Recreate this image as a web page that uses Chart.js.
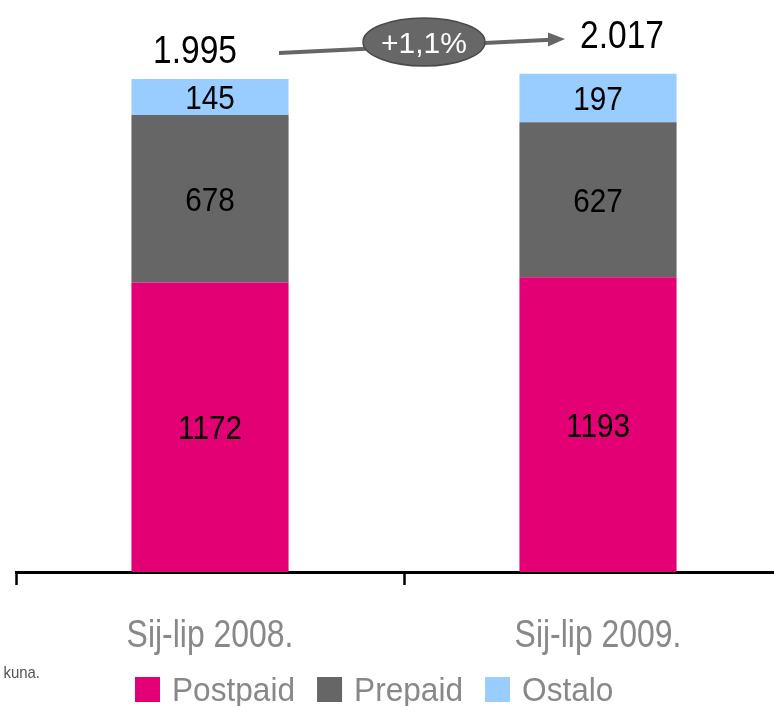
<!DOCTYPE html>
<html>
<head>
<meta charset="utf-8">
<script src="https://cdn.jsdelivr.net/npm/chart.js@4"></script>
<style>
  html, body { margin: 0; padding: 0; overflow: hidden; background: #fff; }
  #wrap { position: absolute; left: 0; top: 0; width: 792px; height: 706px; }
</style>
</head>
<body>
<div id="wrap"><canvas id="myChart"></canvas></div>
<script>
// chart data
let periods = ['Sij-lip 2008.', 'Sij-lip 2009.'];
let postpaidArr = [1172, 1193];
let prepaidArr = [678, 627];
let ostaloArr = [145, 197];
let seriesNames = ['Postpaid', 'Prepaid', 'Ostalo'];
let seriesColors = ['#e20074', '#666666', '#99ccff'];

const FONT = "'Liberation Sans', Arial, sans-serif";

function fmtThousands(n) {
  return String(n).replace(/\B(?=(\d{3})+(?!\d))/g, '.');
}

// the original uses a narrow font, so squeeze the text sideways
function narrowText(ctx, txt, x, y, size, sx, color, align) {
  ctx.save();
  ctx.font = size + 'px ' + FONT;
  ctx.fillStyle = color;
  ctx.textAlign = align || 'center';
  ctx.textBaseline = 'alphabetic';
  ctx.translate(x, y);
  ctx.scale(sx, 1);
  ctx.fillText(txt, 0, 0);
  let w = ctx.measureText(txt).width * sx;
  ctx.restore();
  return w;
}

const extras = {
  id: 'extras',
  afterDatasetsDraw(chart) {
    const ctx = chart.ctx;

    // numbers inside the bars
    chart.data.datasets.forEach((ds, i) => {
      let meta = chart.getDatasetMeta(i);
      meta.data.forEach((bar, j) => {
        let p = bar.getProps(['x', 'y', 'base'], true);
        narrowText(ctx, String(ds.data[j]), p.x, (p.y + p.base) / 2 + 12, 33, 0.9, '#000');
      });
    });

    // category labels under the axis
    let xs = chart.scales.x;
    periods.forEach((lab, j) => {
      narrowText(ctx, lab, xs.getPixelForValue(j), 647, 38, 0.84, '#888');
    });

    // totals above the bars
    let last = chart.getDatasetMeta(chart.data.datasets.length - 1).data;
    let totals = periods.map((p, j) => postpaidArr[j] + prepaidArr[j] + ostaloArr[j]);
    let t0 = last[0].getProps(['x', 'y'], true);
    let t1 = last[1].getProps(['x', 'y'], true);
    narrowText(ctx, fmtThousands(totals[0]), t0.x - 15, t0.y - 16, 39, 0.86, '#000');
    narrowText(ctx, fmtThousands(totals[1]), t1.x + 24, t1.y - 26, 39, 0.86, '#000');

    // growth arrow
    ctx.save();
    let x1 = t0.x + 69, y1 = 53;
    let x2 = t1.x - 33, y2 = 39;
    ctx.strokeStyle = '#666';
    ctx.lineWidth = 4;
    ctx.beginPath();
    ctx.moveTo(x1, y1);
    ctx.lineTo(x2 - 14, y2 + 0.7);
    ctx.stroke();
    ctx.fillStyle = '#666';
    ctx.beginPath();
    ctx.moveTo(x2, y2);
    ctx.lineTo(x2 - 17, y2 - 6.5);
    ctx.lineTo(x2 - 17, y2 + 7.5);
    ctx.closePath();
    ctx.fill();

    let ex = (t0.x + t1.x) / 2 + 20, ey = 42;
    ctx.beginPath();
    ctx.ellipse(ex, ey, 61, 24, 0, 0, Math.PI * 2);
    ctx.fillStyle = '#676767';
    ctx.fill();
    ctx.lineWidth = 1.5;
    ctx.strokeStyle = '#4a4a4a';
    ctx.stroke();
    ctx.restore();
    let growth = ((totals[1] / totals[0] - 1) * 100).toFixed(1).replace('.', ',');
    narrowText(ctx, '+' + growth + '%', ex, 53, 30, 1.0, '#fff');

    // legend
    let lx = 135;
    for (let i = 0; i < seriesNames.length; i++) {
      ctx.fillStyle = seriesColors[i];
      ctx.fillRect(lx, 677, 25, 25);
      let w = narrowText(ctx, seriesNames[i], lx + 37, 701, 34, 0.93, '#888', 'left');
      lx = lx + 37 + w + 22;
    }

    // cut off footnote
    narrowText(ctx, 'kuna.', 40, 678, 17, 0.88, '#555', 'right');
  }
};

const data = {
  labels: periods,
  datasets: [
    { label: seriesNames[0], data: postpaidArr, backgroundColor: seriesColors[0] },
    { label: seriesNames[1], data: prepaidArr, backgroundColor: seriesColors[1] },
    { label: seriesNames[2], data: ostaloArr, backgroundColor: seriesColors[2] }
  ]
};

const config = {
  type: 'bar',
  data: data,
  options: {
    responsive: true,
    maintainAspectRatio: false,
    animation: false,
    barPercentage: 0.405,
    categoryPercentage: 1,
    layout: { padding: { left: 16, right: 0, top: 0, bottom: 0 } },
    plugins: {
      legend: { display: false },
      tooltip: { enabled: false }
    },
    scales: {
      x: {
        stacked: true,
        afterFit: function (scale) { scale.height = 134; },
        border: { display: true, color: '#000', width: 3 },
        grid: {
          display: true,
          offset: true,
          drawOnChartArea: false,
          drawTicks: true,
          tickLength: 13,
          tickWidth: 2.5,
          tickColor: '#000'
        },
        ticks: {
          color: 'rgba(0,0,0,0)',
          padding: 24,
          font: { family: FONT, size: 37 }
        }
      },
      y: {
        stacked: true,
        display: false,
        min: 0,
        max: 2315
      }
    }
  },
  plugins: [extras]
};

var myChart = new Chart(document.getElementById('myChart'), config);
</script>
</body>
</html>
